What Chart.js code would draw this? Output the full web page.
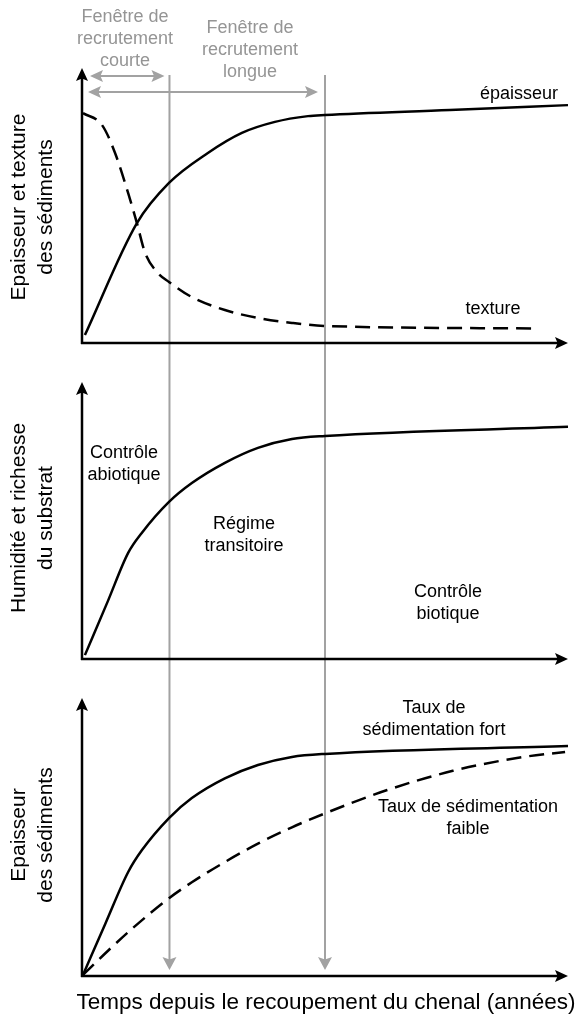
<!DOCTYPE html>
<html>
<head>
<meta charset="utf-8">
<script src="https://cdn.jsdelivr.net/npm/chart.js@4"></script>
<style>
  body { margin: 0; background: #fff; }
  canvas { display: block; }
</style>
</head>
<body>
<canvas id="c1" width="581" height="360"></canvas>
<canvas id="c2" width="581" height="320"></canvas>
<canvas id="c3" width="581" height="347"></canvas>
<script>
// Time since the cut-off, 0 = cut-off, 100 = end of the axis (no real units, conceptual figure)
const windowShort = 18
const windowLong = 50

// Panel 1 - thickness and texture of the sediments
const epaisseurT = [0.6, 11.3, 17.9, 25.9, 32.9, 39.7, 46.5, 50.0, 75.7, 100]
const epaisseur = [2.9, 43.6, 58.2, 69.1, 76.4, 80.4, 82.5, 82.9, 84.7, 86.5]
const textureT = [0.2, 4.1, 6.8, 9.5, 11.3, 13.0, 15.6, 17.9, 22.6, 29.4, 36.2, 43.2, 50.0, 93.2]
const texture = [83.6, 79.3, 69.1, 54.5, 43.6, 32.7, 25.5, 22.2, 16.7, 12.0, 9.1, 7.3, 6.2, 5.3]

// Panel 2 - moisture and richness of the substrate
const humiditeT = [0.6, 5.3, 9.5, 12.3, 17.9, 22.6, 29.4, 36.2, 43.2, 50.0, 100]
const humidite = [1.4, 20.8, 38.3, 45.5, 56.7, 63.5, 70.8, 76.2, 79.4, 80.5, 83.8]

// Panel 3 - sediment thickness, high vs low sedimentation rate
const fortT = [0.2, 4.8, 9.5, 12.3, 17.9, 22.6, 29.4, 36.2, 43.2, 50.0, 100]
const fort = [0.4, 18.8, 37.4, 45.2, 56.8, 64.0, 71.1, 75.9, 78.8, 79.9, 82.7]
const faibleT = [0.2, 5.3, 10.3, 17.9, 22.6, 29.4, 36.2, 43.2, 50.0, 62.8, 76.3, 90.1, 99.4]
const faible = [0.4, 9.0, 17.0, 28.0, 33.7, 41.0, 47.6, 53.5, 58.5, 66.9, 73.8, 78.6, 80.6]

const GREY_LINE = '#a2a2a2'
const GREY_TEXT = '#959595'
const FONT = '"Liberation Sans", Arial, sans-serif'

function points(xs, ys) {
    return xs.map((x, i) => ({ x: x, y: ys[i] }))
}

function curve(xs, ys, dashed) {
    return {
        data: points(xs, ys),
        borderColor: '#000',
        borderWidth: 2.5,
        borderDash: dashed ? [15, 8] : [],
        pointRadius: 0,
        cubicInterpolationMode: 'monotone',
        fill: false,
        clip: false
    }
}

function arrowHead(ctx, x, y, angle, color, len = 13, half = 6) {
    ctx.save()
    ctx.translate(x, y)
    ctx.rotate(angle)
    ctx.beginPath()
    ctx.moveTo(0, 0)
    ctx.lineTo(-len, -half)
    ctx.lineTo(-len * 0.8, 0)
    ctx.lineTo(-len, half)
    ctx.closePath()
    ctx.fillStyle = color
    ctx.fill()
    ctx.restore()
}

function textLines(ctx, lines, cx, cy, size, color, gap) {
    ctx.save()
    ctx.font = size + 'px ' + FONT
    ctx.fillStyle = color
    ctx.textAlign = 'center'
    ctx.textBaseline = 'middle'
    const start = cy - (lines.length - 1) * gap / 2
    lines.forEach((l, i) => ctx.fillText(l, cx, start + i * gap))
    ctx.restore()
}

function yTitle(ctx, lines, cy) {
    ctx.save()
    ctx.font = '21px ' + FONT
    ctx.fillStyle = '#000'
    ctx.textAlign = 'center'
    ctx.textBaseline = 'middle'
    const xs = [19, 46]
    lines.forEach((l, i) => {
        ctx.save()
        ctx.translate(xs[i], cy)
        ctx.rotate(-Math.PI / 2)
        ctx.fillText(l, 0, 0)
        ctx.restore()
    })
    ctx.restore()
}

function panel(id, datasets, padding, opts) {
    const decor = {
        id: 'decor',
        beforeDatasetsDraw(chart) {
            const ctx = chart.ctx
            const x = chart.scales.x
            ctx.save()
            ctx.strokeStyle = GREY_LINE
            ctx.lineWidth = 2
            ;[windowShort, windowLong].forEach(t => {
                const px = x.getPixelForValue(t)
                const end = opts.lineArrow ? opts.lineBottom - 10 : opts.lineBottom
                ctx.beginPath()
                ctx.moveTo(px, opts.lineTop)
                ctx.lineTo(px, end)
                ctx.stroke()
                if (opts.lineArrow) arrowHead(ctx, px, opts.lineBottom, Math.PI / 2, GREY_LINE, 13, 7)
            })
            ctx.restore()
        },
        afterDatasetsDraw(chart) {
            const ctx = chart.ctx
            const x = chart.scales.x
            const y = chart.scales.y
            const x0 = x.getPixelForValue(0)
            const x1 = x.getPixelForValue(100)
            const y0 = y.getPixelForValue(0)
            const y1 = y.getPixelForValue(100)

            // axes with arrows
            ctx.save()
            ctx.strokeStyle = '#000'
            ctx.lineWidth = 2.5
            ctx.beginPath()
            ctx.moveTo(x0, y0 + 1)
            ctx.lineTo(x0, y1 + 8)
            ctx.moveTo(x0 - 1, y0)
            ctx.lineTo(x1 - 8, y0)
            ctx.stroke()
            ctx.restore()
            arrowHead(ctx, x0, y1, -Math.PI / 2, '#000', 13, 6)
            arrowHead(ctx, x1, y0, 0, '#000', 13, 6)

            if (opts.extra) opts.extra(ctx, x)
            opts.labels.forEach(l => textLines(ctx, l.lines, l.x, l.y, l.size || 18, l.color || '#000', l.gap || 22))
            yTitle(ctx, opts.yTitle, opts.yTitleY)
        }
    }

    return new Chart(document.getElementById(id), {
        type: 'line',
        data: { datasets: datasets },
        options: {
            responsive: false,
            animation: false,
            layout: { padding: padding },
            plugins: { legend: { display: false }, tooltip: { enabled: false } },
            scales: {
                x: { type: 'linear', min: 0, max: 100, display: false },
                y: { type: 'linear', min: 0, max: 100, display: false }
            }
        },
        plugins: [decor]
    })
}

// recruitment windows at the top of the first panel
function windowArrows(ctx, x) {
    const x0 = x.getPixelForValue(0)
    const rows = [
        { y: 76, from: x0 + 8, to: x.getPixelForValue(windowShort) - 5 },
        { y: 92, from: x0 + 6, to: x.getPixelForValue(windowLong) - 7 }
    ]
    ctx.save()
    ctx.strokeStyle = GREY_LINE
    ctx.lineWidth = 2
    rows.forEach(r => {
        ctx.beginPath()
        ctx.moveTo(r.from + 8, r.y)
        ctx.lineTo(r.to - 8, r.y)
        ctx.stroke()
        arrowHead(ctx, r.from, r.y, Math.PI, GREY_LINE, 13, 6)
        arrowHead(ctx, r.to, r.y, 0, GREY_LINE, 13, 6)
    })
    ctx.restore()
}

panel('c1',
    [curve(epaisseurT, epaisseur, false), curve(textureT, texture, true)],
    { left: 82, right: 13, top: 68, bottom: 17 },
    {
        lineTop: 75, lineBottom: 360, lineArrow: false,
        extra: windowArrows,
        labels: [
            { lines: ['Fenêtre de', 'recrutement', 'courte'], x: 125, y: 39, color: GREY_TEXT },
            { lines: ['Fenêtre de', 'recrutement', 'longue'], x: 250, y: 50, color: GREY_TEXT },
            { lines: ['épaisseur'], x: 519, y: 94 },
            { lines: ['texture'], x: 493, y: 309 }
        ],
        yTitle: ['Epaisseur et texture', 'des sédiments'], yTitleY: 207
    })

panel('c2',
    [curve(humiditeT, humidite, false)],
    { left: 82, right: 13, top: 22, bottom: 21 },
    {
        lineTop: 0, lineBottom: 320, lineArrow: false,
        labels: [
            { lines: ['Contrôle', 'abiotique'], x: 124, y: 104 },
            { lines: ['Régime', 'transitoire'], x: 244, y: 175 },
            { lines: ['Contrôle', 'biotique'], x: 448, y: 243 }
        ],
        yTitle: ['Humidité et richesse', 'du substrat'], yTitleY: 158
    })

panel('c3',
    [curve(fortT, fort, false), curve(faibleT, faible, true)],
    { left: 82, right: 13, top: 18, bottom: 51 },
    {
        lineTop: 0, lineBottom: 290, lineArrow: true,
        labels: [
            { lines: ['Taux de', 'sédimentation fort'], x: 434, y: 39 },
            { lines: ['Taux de sédimentation', 'faible'], x: 468, y: 138 },
            { lines: ['Temps depuis le recoupement du chenal (années)'], x: 326, y: 323, size: 22.5 }
        ],
        yTitle: ['Epaisseur', 'des sédiments'], yTitleY: 155
    })
</script>
</body>
</html>
